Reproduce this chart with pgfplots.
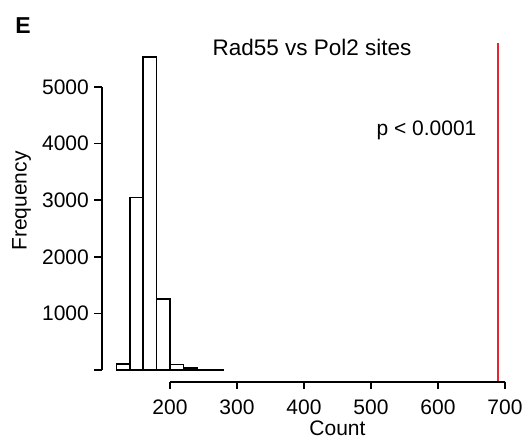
\documentclass[border=0pt]{standalone}
\usepackage{fontspec}
\setmainfont{Liberation Sans}
\usepackage{pgfplots}
\pgfplotsset{compat=1.18}
\definecolor{redline}{RGB}{225,40,50}
\newcommand{\tickfont}{\fontsize{21}{24}\selectfont}
\begin{document}
\begin{tikzpicture}
\useasboundingbox (0,0) rectangle (527pt,440pt);
\begin{axis}[
  at={(69.5pt,24.7pt)}, anchor=south west,
  x=0.67pt, y=0.0566pt,
  xmin=50, xmax=750, ymin=-800, ymax=6500,
  hide axis, clip=false,
]
% histogram
\addplot[ybar interval, fill=white, draw=black, line width=1.6pt]
  coordinates {(120,110)(140,3050)(160,5530)(180,1260)(200,95)(220,35)(240,8)(260,3)(280,3)};
% observed value
\addplot[draw=redline, color=redline, line width=1.8pt, mark=none] coordinates {(689,-207)(689,5780)};
% y axis
\draw[line width=1.6pt] (axis cs:98.5,0) -- (axis cs:98.5,5000);
\draw[line width=1.6pt] (axis cs:98.5,0) -- ++(-8pt,0pt);
\draw[line width=1.6pt] (axis cs:98.5,1000) -- ++(-8pt,0pt);
\draw[line width=1.6pt] (axis cs:98.5,2000) -- ++(-8pt,0pt);
\draw[line width=1.6pt] (axis cs:98.5,3000) -- ++(-8pt,0pt);
\draw[line width=1.6pt] (axis cs:98.5,4000) -- ++(-8pt,0pt);
\draw[line width=1.6pt] (axis cs:98.5,5000) -- ++(-8pt,0pt);
\node[anchor=east, inner sep=0, font=\tickfont] at ([xshift=-13pt]axis cs:98.5,1000) {1000};
\node[anchor=east, inner sep=0, font=\tickfont] at ([xshift=-13pt]axis cs:98.5,2000) {2000};
\node[anchor=east, inner sep=0, font=\tickfont] at ([xshift=-13pt]axis cs:98.5,3000) {3000};
\node[anchor=east, inner sep=0, font=\tickfont] at ([xshift=-13pt]axis cs:98.5,4000) {4000};
\node[anchor=east, inner sep=0, font=\tickfont] at ([xshift=-13pt]axis cs:98.5,5000) {5000};
% x axis
\draw[line width=1.6pt] (axis cs:200,-207) -- (axis cs:700,-207);
\draw[line width=1.6pt] (axis cs:200,-207) -- ++(0pt,-7pt);
\draw[line width=1.6pt] (axis cs:300,-207) -- ++(0pt,-7pt);
\draw[line width=1.6pt] (axis cs:400,-207) -- ++(0pt,-7pt);
\draw[line width=1.6pt] (axis cs:500,-207) -- ++(0pt,-7pt);
\draw[line width=1.6pt] (axis cs:600,-207) -- ++(0pt,-7pt);
\draw[line width=1.6pt] (axis cs:700,-207) -- ++(0pt,-7pt);
\node[anchor=north, inner sep=0, font=\tickfont] at ([yshift=-18pt]axis cs:200,-207) {200};
\node[anchor=north, inner sep=0, font=\tickfont] at ([yshift=-18pt]axis cs:300,-207) {300};
\node[anchor=north, inner sep=0, font=\tickfont] at ([yshift=-18pt]axis cs:400,-207) {400};
\node[anchor=north, inner sep=0, font=\tickfont] at ([yshift=-18pt]axis cs:500,-207) {500};
\node[anchor=north, inner sep=0, font=\tickfont] at ([yshift=-18pt]axis cs:600,-207) {600};
\node[anchor=north, inner sep=0, font=\tickfont] at ([yshift=-18pt]axis cs:700,-207) {700};
\end{axis}
\node[font=\tickfont, inner sep=0] at (337.5pt,12pt) {Count};
\node[font=\tickfont, inner sep=0, rotate=90] at (21.7pt,239pt) {Frequency};
\node[font=\fontsize{22.5}{26}\selectfont, inner sep=0] at (312pt,392.5pt) {Rad55 vs Pol2 sites};
\node[font=\tickfont, inner sep=0] at (426.5pt,310pt) {p < 0.0001};
\node[font=\fontsize{23}{26}\selectfont\bfseries, inner sep=0] at (23pt,414.5pt) {E};
\end{tikzpicture}
\end{document}
